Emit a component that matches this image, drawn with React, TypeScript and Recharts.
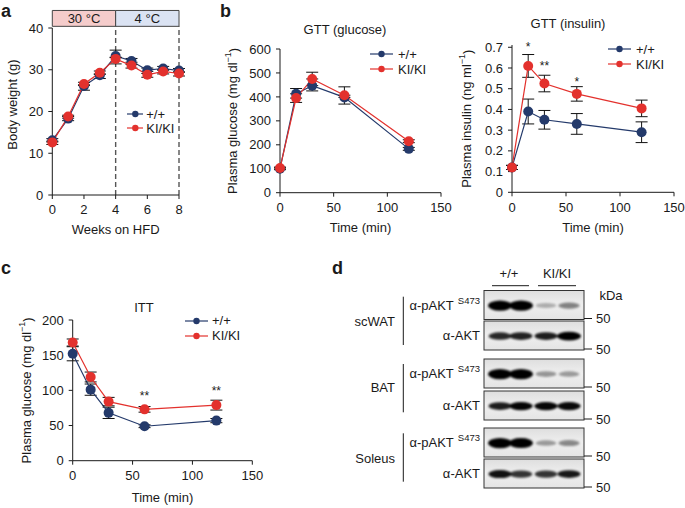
import React from "react";
import {
  ComposedChart,
  Line,
  Scatter,
  XAxis,
  YAxis,
  ErrorBar,
  Legend,
  ReferenceArea,
  ReferenceLine,
} from "recharts";

const FONT = '"Liberation Sans", Arial, Helvetica, sans-serif';
const NAVY = "#243a6b";
const RED = "#e3312d";
const INK = "#1a1a1a";
const FS = 13;

// ---- a: body weight ----
const weeks = [0, 1, 2, 3, 4, 5, 6, 7, 8];
const bwWT = [13.1, 18.3, 26.1, 28.7, 33.3, 32.1, 29.9, 30.3, 29.8];
const bwWTErr = [[0.4, 0.4], [0.5, 0.5], [1.0, 0.3], [0.8, 0.3], [0.3, 1.4], [0.3, 0.6], [0.3, 0.5], [0.3, 0.5], [0.3, 0.5]];
const bwKI = [12.6, 18.8, 26.6, 29.3, 32.6, 31.0, 28.8, 29.6, 29.1];
const bwKIErr = [[0.5, 0.3], [0.4, 0.3], [0.4, 0.4], [0.4, 0.4], [1.2, 0.3], [0.6, 0.3], [0.6, 0.3], [0.6, 0.3], [0.6, 0.3]];

// ---- b: GTT ----
const gttTimes = [0, 15, 30, 60, 120];
const gluWT = [100, 413, 447, 398, 183];
const gluWTErr = [[4, 4], [0, 22], [22, 0], [28, 0], [6, 6]];
const gluKI = [103, 395, 475, 407, 215];
const gluKIErr = [[4, 4], [18, 0], [0, 28], [0, 35], [6, 6]];

const insWT = [0.12, 0.39, 0.35, 0.33, 0.29];
const insWTErr = [0.01, 0.06, 0.045, 0.05, 0.05];
const insKI = [0.12, 0.61, 0.525, 0.475, 0.405];
const insKIErr = [0.01, 0.055, 0.04, 0.035, 0.04];
const insStars = [
  { t: 15, y: 0.711, s: "*" },
  { t: 30, y: 0.62, s: "**" },
  { t: 60, y: 0.544, s: "*" },
];

// ---- c: ITT ----
const ittTimes = [0, 15, 30, 60, 120];
const ittWT = [152, 101, 68, 49, 57];
const ittWTErr = [10, 8, 8, 2, 3];
const ittKI = [168, 119, 84, 73, 79];
const ittKIErr = [5, 7, 6, 4, 7];
const ittStars = [
  { t: 60, y: 95, s: "**" },
  { t: 120, y: 102, s: "**" },
];

// ---- d: western blot band intensities (lanes: +/+, +/+, KI/KI, KI/KI) ----
const blotRows = [
  { probe: "pAKT", top: 290.5, bands: [1, 1, 0.2, 0.38] },
  { probe: "AKT", top: 321, bands: [0.75, 0.78, 0.8, 1] },
  { probe: "pAKT", top: 359, bands: [1, 1, 0.3, 0.28] },
  { probe: "AKT", top: 391, bands: [0.8, 0.9, 0.9, 0.88] },
  { probe: "pAKT", top: 428, bands: [1, 0.95, 0.28, 0.35] },
  { probe: "AKT", top: 459, bands: [0.85, 0.7, 0.7, 0.82] },
];
const laneX = [500, 521, 546, 569];
const tissues = [
  { name: "scWAT", y: 321, y1: 296.7, y2: 345 },
  { name: "BAT", y: 387, y1: 364, y2: 412.3 },
  { name: "Soleus", y: 458, y1: 433.3, y2: 481.7 },
];

const aRows = weeks.map((w, i) => ({ t: w, wt: bwWT[i], ki: bwKI[i], wtErr: bwWTErr[i], kiErr: bwKIErr[i] }));
const gluRows = gttTimes.map((t, i) => ({ t, wt: gluWT[i], ki: gluKI[i], wtErr: gluWTErr[i], kiErr: gluKIErr[i] }));
const insRows = gttTimes.map((t, i) => ({ t, wt: insWT[i], ki: insKI[i], wtErr: insWTErr[i], kiErr: insKIErr[i] }));
const ittRows = ittTimes.map((t, i) => ({ t, wt: ittWT[i], ki: ittKI[i], wtErr: ittWTErr[i], kiErr: ittKIErr[i] }));

const axisProps = {
  stroke: INK,
  tick: { fill: INK, fontSize: FS },
  tickLine: { stroke: INK },
  axisLine: { stroke: INK },
  tickSize: 4,
  interval: 0 as const,
};

function yTitle(dx: number, text: string, sup?: string, tail?: string, shift = 0) {
  return (props: any) => {
    const vb = props.viewBox;
    const x = vb.x + dx;
    const y = vb.y + vb.height / 2 + shift;
    return (
      <text
        x={x}
        y={y}
        transform={`rotate(-90 ${x} ${y})`}
        textAnchor="middle"
        dominantBaseline="central"
        fontSize={FS}
        fill={INK}
      >
        {text}
        {sup && (
          <tspan dy={-5} fontSize={9}>
            {sup}
          </tspan>
        )}
        {tail && <tspan dy={5}>{tail}</tspan>}
      </text>
    );
  };
}

function xTitle(dy: number, text: string) {
  return (props: any) => {
    const vb = props.viewBox;
    return (
      <text
        x={vb.x + vb.width / 2}
        y={vb.y + dy}
        textAnchor="middle"
        dominantBaseline="central"
        fontSize={FS}
        fill={INK}
      >
        {text}
      </text>
    );
  };
}

function keyContent(lineLen: number, gap: number, rowH: number) {
  return (props: any) => {
    const items = (props.payload || []).filter((p: any) => p.type !== "none");
    return (
      <div style={{ fontSize: FS, color: INK }}>
        {items.map((p: any) => (
          <div key={p.value} style={{ display: "flex", alignItems: "center", height: rowH }}>
            <svg width={lineLen} height={10} style={{ display: "block" }}>
              <line x1={0} y1={5} x2={lineLen} y2={5} stroke={p.color} strokeWidth={1.2} />
              <circle cx={lineLen / 2} cy={5} r={3.2} fill={p.color} />
            </svg>
            <span style={{ marginLeft: gap, whiteSpace: "nowrap" }}>{p.value}</span>
          </div>
        ))}
      </div>
    );
  };
}

const StarShape = (props: any) => (
  <text x={props.cx} y={props.cy + 6} textAnchor="middle" fontSize={12} fill={INK}>
    {props.payload.s}
  </text>
);

function series() {
  return [
    <Line
      key="wt"
      dataKey="wt"
      name="+/+"
      stroke={NAVY}
      strokeWidth={1.2}
      dot={{ r: 5, fill: NAVY, stroke: NAVY, strokeWidth: 0 }}
      isAnimationActive={false}
    >
      <ErrorBar dataKey="wtErr" direction="y" width={6} stroke="#111" strokeWidth={1} />
    </Line>,
    <Line
      key="ki"
      dataKey="ki"
      name="KI/KI"
      stroke={RED}
      strokeWidth={1.2}
      dot={{ r: 5, fill: RED, stroke: RED, strokeWidth: 0 }}
      isAnimationActive={false}
    >
      <ErrorBar dataKey="kiErr" direction="y" width={6} stroke="#111" strokeWidth={1} />
    </Line>,
  ];
}

function Txt({ x, y, children, size = FS, bold = false, anchor = "middle" }: any) {
  const tx = anchor === "middle" ? "-50%" : anchor === "end" ? "-100%" : "0";
  return (
    <div
      style={{
        position: "absolute",
        left: x,
        top: y,
        transform: `translate(${tx}, -50%)`,
        fontSize: size,
        fontWeight: bold ? 700 : 400,
        whiteSpace: "nowrap",
        lineHeight: 1,
        color: INK,
      }}
    >
      {children}
    </div>
  );
}

function Blot() {
  const h = 29;
  return (
    <svg
      width={385}
      height={268}
      viewBox="300 240 385 268"
      style={{ position: "absolute", left: 300, top: 240 }}
      fontSize={FS}
      fill={INK}
    >
      <defs>
        <filter id="bandBlur" x="-50%" y="-100%" width="200%" height="300%">
          <feGaussianBlur stdDeviation="1.3" />
        </filter>
        <linearGradient id="stripBg" x1="0" y1="0" x2="0" y2="1">
          <stop offset="0" stopColor="#dedede" />
          <stop offset="0.5" stopColor="#efefef" />
          <stop offset="1" stopColor="#e4e4e4" />
        </linearGradient>
      </defs>
      <text x={509} y={277.5} textAnchor="middle">+/+</text>
      <text x={557} y={277.5} textAnchor="middle">KI/KI</text>
      <line x1={492} y1={285.7} x2={529} y2={285.7} stroke={INK} strokeWidth={1} />
      <line x1={538} y1={285.7} x2={576} y2={285.7} stroke={INK} strokeWidth={1} />
      <text x={611} y={299.5} textAnchor="middle">kDa</text>
      {blotRows.map((r, ri) => {
        const cy = r.top + h * 0.52;
        return (
          <g key={ri}>
            <rect x={484} y={r.top} width={100} height={h} fill="url(#stripBg)" />
            <g filter="url(#bandBlur)">
              {r.bands.map((v, li) => (
                <ellipse
                  key={li}
                  cx={laneX[li]}
                  cy={cy}
                  rx={10 + v * 2}
                  ry={1.8 + v * (r.probe === "pAKT" ? 3.4 : 2.6)}
                  fill="#000"
                  fillOpacity={Math.min(1, 0.08 + v)}
                />
              ))}
            </g>
            <rect x={484} y={r.top} width={100} height={h} fill="none" stroke="#333" strokeWidth={1} />
            <line x1={584} y1={r.top + h - 1} x2={592} y2={r.top + h - 1} stroke={INK} strokeWidth={1} />
            <text x={596} y={r.top + h + 3.5}>50</text>
            <text x={480} y={r.top + h / 2 + 4.5} textAnchor="end">
              {"\u03b1-" + r.probe}
              {r.probe === "pAKT" && (
                <tspan dx={4} dy={-6} fontSize={9.5}>S473</tspan>
              )}
            </text>
          </g>
        );
      })}
      {tissues.map((t) => (
        <g key={t.name}>
          <line x1={403.3} y1={t.y1} x2={403.3} y2={t.y2} stroke={INK} strokeWidth={1} />
          <text x={395} y={t.y + 4.5} textAnchor="end">{t.name}</text>
        </g>
      ))}
    </svg>
  );
}

export default function App() {
  return (
    <div
      style={{
        position: "absolute",
        left: 0,
        top: 0,
        width: 685,
        height: 508,
        background: "#fff",
        fontFamily: FONT,
        overflow: "hidden",
      }}
    >
      {/* panel a */}
      <div style={{ position: "absolute", left: 0, top: 0 }}>
        <ComposedChart width={200} height={245} data={aRows} margin={{ top: 28, right: 21, bottom: 10, left: 0 }}>
          <XAxis
            {...axisProps}
            type="number"
            dataKey="t"
            domain={[0, 8]}
            ticks={[0, 2, 4, 6, 8]}
            tickMargin={6}
            height={40}
            label={{ content: xTitle(34, "Weeks on HFD") }}
          />
          <YAxis
            {...axisProps}
            type="number"
            domain={[0, 40]}
            ticks={[0, 10, 20, 30, 40]}
            tickMargin={5}
            width={52.3}
            label={{ content: yTitle(12.5, "Body weight (g)", undefined, undefined, -7) }}
          />
          <ReferenceArea
            x1={0}
            x2={4}
            y1={40.4}
            y2={44.2}
            ifOverflow="visible"
            fill="#f5cccb"
            fillOpacity={1}
            stroke="#444"
            strokeWidth={1}
            label={{ value: "30 \u00b0C", position: "center", fill: INK, fontSize: FS }}
          />
          <ReferenceArea
            x1={4}
            x2={8}
            y1={40.4}
            y2={44.2}
            ifOverflow="visible"
            fill="#dbe3f3"
            fillOpacity={1}
            stroke="#444"
            strokeWidth={1}
            label={{ value: "4 \u00b0C", position: "center", fill: INK, fontSize: FS }}
          />
          <ReferenceLine
            segment={[{ x: 4, y: 0 }, { x: 4, y: 40.4 }]}
            ifOverflow="visible"
            stroke="#555"
            strokeWidth={1.4}
            strokeDasharray="5 3"
          />
          <ReferenceLine
            segment={[{ x: 8, y: 0 }, { x: 8, y: 40.4 }]}
            ifOverflow="visible"
            stroke="#555"
            strokeWidth={1.4}
            strokeDasharray="5 3"
          />
          {series()}
          <Legend
            layout="vertical"
            align="center"
            verticalAlign="middle"
            content={keyContent(16.6, 3, 14)}
            wrapperStyle={{ left: 126.7, top: 107, width: 70, bottom: "auto", right: "auto" }}
          />
        </ComposedChart>
      </div>

      {/* panel b: glucose */}
      <div style={{ position: "absolute", left: 220, top: 0 }}>
        <ComposedChart width={232} height={240} data={gluRows} margin={{ top: 49, right: 11, bottom: 7.3, left: 0 }}>
          <XAxis
            {...axisProps}
            type="number"
            dataKey="t"
            domain={[0, 150]}
            ticks={[0, 50, 100, 150]}
            tickMargin={6}
            height={40}
            label={{ content: xTitle(35, "Time (min)") }}
          />
          <YAxis
            {...axisProps}
            type="number"
            domain={[0, 600]}
            ticks={[0, 100, 200, 300, 400, 500, 600]}
            tickMargin={5}
            width={60}
            label={{ content: yTitle(13, "Plasma glucose (mg dl", "\u22121", ")") }}
          />
          {series()}
          <Legend
            layout="vertical"
            align="center"
            verticalAlign="middle"
            content={keyContent(23, 5, 15)}
            wrapperStyle={{ left: 150, top: 46.5, width: 75, bottom: "auto", right: "auto" }}
          />
        </ComposedChart>
      </div>

      {/* panel b: insulin */}
      <div style={{ position: "absolute", left: 450, top: 0 }}>
        <ComposedChart width={235} height={240} data={insRows} margin={{ top: 45, right: 11, bottom: 7.7, left: 0 }}>
          <XAxis
            {...axisProps}
            type="number"
            dataKey="t"
            domain={[0, 150]}
            ticks={[0, 50, 100, 150]}
            tickMargin={6}
            height={40}
            label={{ content: xTitle(35, "Time (min)") }}
          />
          <YAxis
            {...axisProps}
            type="number"
            domain={[0, 0.7]}
            ticks={[0, 0.1, 0.2, 0.3, 0.4, 0.5, 0.6, 0.7]}
            tickFormatter={(v: number) => (v === 0 ? "0" : v.toFixed(1))}
            tickMargin={5}
            width={62}
            label={{ content: yTitle(17, "Plasma insulin (ng ml", "\u22121", ")") }}
          />
          {series()}
          <Scatter data={insStars} dataKey="y" shape={StarShape} legendType="none" isAnimationActive={false} />
          <Legend
            layout="vertical"
            align="center"
            verticalAlign="middle"
            content={keyContent(23, 5, 15)}
            wrapperStyle={{ left: 158, top: 41.5, width: 75, bottom: "auto", right: "auto" }}
          />
        </ComposedChart>
      </div>

      {/* panel c */}
      <div style={{ position: "absolute", left: 0, top: 240 }}>
        <ComposedChart width={275} height={268} data={ittRows} margin={{ top: 80, right: 22.7, bottom: 7.3, left: 0 }}>
          <XAxis
            {...axisProps}
            type="number"
            dataKey="t"
            domain={[0, 150]}
            ticks={[0, 50, 100, 150]}
            tickMargin={6}
            height={40}
            label={{ content: xTitle(37, "Time (min)") }}
          />
          <YAxis
            {...axisProps}
            type="number"
            domain={[0, 200]}
            ticks={[0, 50, 100, 150, 200]}
            tickMargin={5}
            width={72.7}
            label={{ content: yTitle(27, "Plasma glucose (mg dl", "\u22121", ")") }}
          />
          {series()}
          <Scatter data={ittStars} dataKey="y" shape={StarShape} legendType="none" isAnimationActive={false} />
          <Legend
            layout="vertical"
            align="center"
            verticalAlign="middle"
            content={keyContent(23, 4, 15)}
            wrapperStyle={{ left: 185, top: 73.2, width: 75, bottom: "auto", right: "auto" }}
          />
        </ComposedChart>
      </div>

      <Blot />

      {/* titles and panel letters */}
      <Txt x={345} y={29}>GTT (glucose)</Txt>
      <Txt x={568} y={23}>GTT (insulin)</Txt>
      <Txt x={144} y={307}>ITT</Txt>
      <Txt x={1} y={11} size={18} bold anchor="start">a</Txt>
      <Txt x={220} y={11} size={18} bold anchor="start">b</Txt>
      <Txt x={1} y={268} size={18} bold anchor="start">c</Txt>
      <Txt x={332} y={268} size={18} bold anchor="start">d</Txt>
    </div>
  );
}
